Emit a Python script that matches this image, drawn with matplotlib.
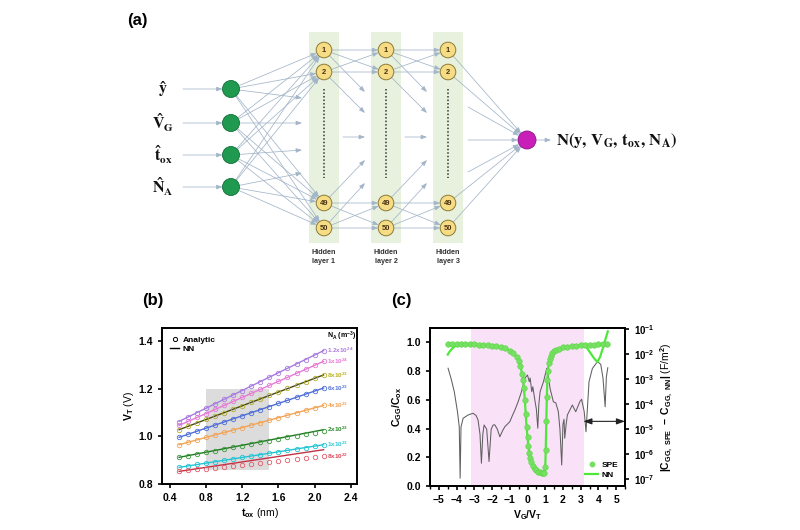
import numpy as np
import matplotlib
matplotlib.use('Agg')
import matplotlib.pyplot as plt
from matplotlib.patches import Circle, Rectangle
from matplotlib.lines import Line2D
from matplotlib.ticker import MultipleLocator, NullLocator

plt.rcParams['font.family'] = ['Liberation Sans', 'DejaVu Sans']
plt.rcParams['font.weight'] = 'bold'
plt.rcParams['mathtext.fontset'] = 'custom'
plt.rcParams['mathtext.rm'] = 'Liberation Sans:bold'
plt.rcParams['mathtext.bf'] = 'Liberation Sans:bold'
plt.rcParams['mathtext.it'] = 'Liberation Sans:italic:bold'
plt.rcParams['mathtext.default'] = 'rm'
plt.rcParams['axes.linewidth'] = 1.4

# ---------------- data: panel (a) ----------------
input_labels = [r'$\mathbf{\hat{y}}$', r'$\hat{\mathbf{V}}_{\mathbf{G}}$',
                r'$\hat{\mathbf{t}}_{\mathbf{ox}}$', r'$\hat{\mathbf{N}}_{\mathbf{A}}$']
node_labels = ['1', '2', '49', '50']
hidden_labels = ['Hidden\nlayer 1', 'Hidden\nlayer 2', 'Hidden\nlayer 3']
output_label = r'$\mathbf{N(y,\,V_G,\,t_{ox},\,N_A)}$'

# ---------------- data: panel (b) ----------------
tox_analytic = [0.5, 0.6, 0.7, 0.8, 0.9, 1.0, 1.1, 1.2, 1.3, 1.4, 1.5, 1.6, 1.7, 1.8, 1.9, 2.0, 2.1]
tox_nn = [0.5, 2.1]
na_labels = [r'1.2x10$^{24}$', r'1x10$^{24}$', r'8x10$^{23}$', r'6x10$^{23}$',
             r'4x10$^{23}$', r'2x10$^{23}$', r'1x10$^{23}$', r'8x10$^{22}$']
vt_an_12e24 = [1.060, 1.080, 1.100, 1.118, 1.137, 1.155, 1.174, 1.192, 1.211, 1.229, 1.248, 1.266, 1.285, 1.303, 1.322, 1.340, 1.358]
vt_an_10e24 = [1.046, 1.063, 1.080, 1.096, 1.113, 1.130, 1.147, 1.164, 1.181, 1.197, 1.214, 1.231, 1.248, 1.265, 1.282, 1.298, 1.315]
vt_an_8e23 = [1.028, 1.042, 1.057, 1.071, 1.086, 1.100, 1.114, 1.129, 1.143, 1.158, 1.172, 1.186, 1.201, 1.215, 1.230, 1.244, 1.258]
vt_an_6e23 = [0.996, 1.009, 1.022, 1.035, 1.048, 1.061, 1.074, 1.087, 1.100, 1.112, 1.125, 1.138, 1.151, 1.164, 1.177, 1.190, 1.203]
vt_an_4e23 = [0.965, 0.975, 0.986, 0.996, 1.006, 1.017, 1.027, 1.037, 1.048, 1.058, 1.068, 1.078, 1.089, 1.099, 1.109, 1.120, 1.130]
vt_an_2e23 = [0.912, 0.919, 0.926, 0.933, 0.940, 0.947, 0.954, 0.961, 0.968, 0.975, 0.982, 0.989, 0.996, 1.002, 1.010, 1.016, 1.024]
vt_an_1e23 = [0.870, 0.876, 0.882, 0.888, 0.894, 0.900, 0.906, 0.912, 0.917, 0.923, 0.929, 0.935, 0.941, 0.947, 0.953, 0.959, 0.965]
vt_an_8e22 = [0.853, 0.857, 0.861, 0.865, 0.869, 0.873, 0.877, 0.881, 0.886, 0.890, 0.894, 0.898, 0.902, 0.906, 0.910, 0.914, 0.918]
vt_nn_12e24 = [1.063, 1.360]
vt_nn_10e24 = [1.046, 1.315]
vt_nn_8e23 = [1.028, 1.258]
vt_nn_6e23 = [0.996, 1.203]
vt_nn_4e23 = [0.965, 1.130]
vt_nn_2e23 = [0.912, 1.028]
vt_nn_1e23 = [0.870, 0.965]
vt_nn_8e22 = [0.853, 0.944]
train_tox = [0.8, 1.5]
train_vt = [0.86, 1.2]

# ---------------- data: panel (c) ----------------
spe_x = [-4.5, -4.25, -4.0, -3.75, -3.5, -3.25, -3.0, -2.75, -2.5, -2.25, -2.0, -1.75, -1.5, -1.25,
         -1.0, -0.8, -0.6, -0.5, -0.4, -0.3, -0.25, -0.2, -0.15, -0.1, -0.05, 0.0, 0.05, 0.1, 0.15,
         0.2, 0.3, 0.4, 0.5, 0.6, 0.7, 0.8, 0.9, 0.95, 1.0, 1.03, 1.06, 1.09, 1.12, 1.15, 1.2, 1.25,
         1.3, 1.4, 1.5, 1.6, 1.75, 2.0, 2.25, 2.5, 2.75, 3.0, 3.25, 3.5, 3.75, 4.0, 4.25, 4.5]
spe_c = [0.990, 0.990, 0.989, 0.989, 0.988, 0.987, 0.986, 0.985, 0.983, 0.981, 0.978, 0.974, 0.968, 0.958,
         0.943, 0.925, 0.895, 0.870, 0.835, 0.780, 0.740, 0.680, 0.600, 0.500, 0.410, 0.340, 0.280, 0.230, 0.195,
         0.170, 0.140, 0.120, 0.108, 0.100, 0.094, 0.090, 0.088, 0.090, 0.130, 0.250, 0.450, 0.620, 0.740, 0.800,
         0.855, 0.885, 0.905, 0.925, 0.940, 0.948, 0.957, 0.965, 0.970, 0.974, 0.977, 0.979, 0.981, 0.983,
         0.985, 0.986, 0.987, 0.988]
nn_x = [-4.5, -4.4, -4.3, -4.2, -4.1, -4.0, -3.8, -3.5, -3.0, -2.5, -2.0, -1.5, -1.0, -0.8, -0.6, -0.5,
        -0.4, -0.3, -0.25, -0.2, -0.15, -0.1, -0.05, 0.0, 0.05, 0.1, 0.15, 0.2, 0.3, 0.4, 0.5, 0.6, 0.7,
        0.8, 0.9, 0.95, 1.0, 1.03, 1.06, 1.09, 1.12, 1.15, 1.2, 1.25, 1.3, 1.4, 1.5, 1.75, 2.0, 2.5,
        3.0, 3.3, 3.5, 3.75, 3.94, 4.1, 4.3, 4.53]
nn_c = [0.915, 0.935, 0.950, 0.962, 0.972, 0.980, 0.988, 0.988, 0.986, 0.983, 0.978, 0.968, 0.943, 0.925,
        0.895, 0.870, 0.835, 0.780, 0.740, 0.680, 0.600, 0.500, 0.410, 0.340, 0.280, 0.230, 0.195, 0.170,
        0.140, 0.120, 0.108, 0.100, 0.094, 0.090, 0.086, 0.088, 0.130, 0.250, 0.450, 0.620, 0.740, 0.800,
        0.855, 0.885, 0.905, 0.925, 0.940, 0.957, 0.965, 0.974, 0.979, 0.972, 0.935, 0.890, 0.863, 0.900,
        0.980, 1.077]
err_x = [-4.48, -4.3, -4.13, -3.95, -3.85, -3.8, -3.75, -3.63, -3.35, -3.07, -2.9, -2.79, -2.68, -2.6,
         -2.52, -2.45, -2.3, -2.17, -2.05, -1.94, -1.85, -1.7, -1.56, -1.4, -1.28, -1.0, -0.85, -0.71,
         -0.53, -0.34, -0.15, 0.0, 0.1, 0.15, 0.24, 0.3, 0.43, 0.5, 0.58, 0.64, 0.71, 0.9, 1.09, 1.18,
         1.27, 1.46, 1.6, 1.74, 1.83, 1.93, 2.0, 2.06, 2.1, 2.18, 2.25, 2.53, 2.72, 2.95, 3.05, 3.2,
         3.3, 3.47, 3.66, 3.94, 4.13, 4.26, 4.38, 4.45, 4.53]
err_log = [-2.56, -3.0, -3.5, -4.3, -4.9, -6.96, -4.9, -4.56, -4.43, -4.36, -4.45, -4.63, -5.2, -6.36,
           -5.2, -4.83, -5.0, -6.29, -5.0, -4.83, -4.82, -5.0, -5.3, -5.05, -4.9, -4.7, -4.45, -4.23,
           -3.9, -3.5, -2.96, -2.83, -3.1, -2.95, -3.5, -3.3, -3.9, -4.2, -4.96, -4.0, -3.5, -3.1, -2.56,
           -2.9, -3.36, -3.9, -3.95, -4.3, -5.0, -6.43, -4.8, -4.6, -5.36, -4.8, -4.43, -4.03, -4.3, -3.9,
           -3.8, -4.3, -5.1, -3.1, -2.57, -2.3, -2.4, -2.96, -4.1, -2.9, -2.54]
shade_vg = [-3.2, 3.2]
err_exp = [-1, -2, -3, -4, -5, -6, -7]

# ---------------- figure ----------------
fig = plt.figure(figsize=(8, 5.3), dpi=100)

# ===== panel (a): network diagram in pixel coordinates =====
ax_a = fig.add_axes([0, 0, 1, 1])
ax_a.set_xlim(0, 800)
ax_a.set_ylim(530, 0)
ax_a.axis('off')

lc = '#a3b5c8'
in_x, in_ys, r_in = 231, [89, 123, 155, 187], 8.5
layer_xs, node_ys, r_h = [324, 386, 448], [50, 72, 203, 228], 7.8
out_x, out_y, r_out = 527, 140, 9


def arrow(x0, y0, x1, y1, r0=0.0, r1=0.0):
    dx, dy = x1 - x0, y1 - y0
    d = np.hypot(dx, dy)
    ux, uy = dx / d, dy / d
    ax_a.annotate('', xy=(x1 - ux * r1, y1 - uy * r1), xytext=(x0 + ux * r0, y0 + uy * r0),
                  arrowprops=dict(arrowstyle='-|>,head_length=0.35,head_width=0.13', color=lc,
                                  lw=0.55, shrinkA=0, shrinkB=0, mutation_scale=10), zorder=2)


for lx in layer_xs:
    ax_a.add_patch(Rectangle((lx - 15, 32), 30, 211, facecolor='#e7f1de', edgecolor='none', zorder=0))
    ax_a.plot([lx, lx], [89, 178], color='#333333', lw=1.1, ls=(0, (1, 1.3)), zorder=3)

# inputs
mid_in = [98, 123, 150, 173]
for i, (y, lab) in enumerate(zip(in_ys, input_labels)):
    ax_a.text(163, y, lab, ha='center', va='center', fontsize=11.5, math_fontfamily='stix', color='#111111')
    arrow(183, y, in_x, y, 0, r_in)
    for ny in node_ys:
        arrow(in_x, y, layer_xs[0], ny, r_in, r_h)
    arrow(in_x, y, layer_xs[0] - 22, mid_in[i], r_in, 0)
    ax_a.add_patch(Circle((in_x, y), r_in, facecolor='#1f9a4e', edgecolor='#12703a', lw=0.6, zorder=4))

# hidden to hidden
mid_h = [92, 113, 160, 183]
groups = [node_ys[:2], node_ys[2:]]
for k in range(2):
    x0, x1 = layer_xs[k], layer_xs[k + 1]
    for g in groups:
        for y0 in g:
            for y1 in g:
                arrow(x0, y0, x1, y1, r_h, r_h)
    for j, y0 in enumerate(node_ys):
        arrow(x0, y0, x1 - 21, mid_h[j], r_h, 0)
    arrow(x1 - 43, 137, x1 - 21, 137)

# last hidden to output
for y0 in node_ys:
    arrow(layer_xs[2], y0, out_x, out_y, r_h, r_out)
for y0 in [107, 140, 172]:
    arrow(468, y0, out_x, out_y, 0, r_out)
arrow(out_x, out_y, 551, out_y, r_out, 0)

for lx, hl in zip(layer_xs, hidden_labels):
    for ny, nl in zip(node_ys, node_labels):
        ax_a.add_patch(Circle((lx, ny), r_h, facecolor='#f6dc85', edgecolor='#8c7a35', lw=0.7, zorder=4))
        ax_a.text(lx, ny + 0.3, nl, ha='center', va='center', fontsize=5.5, color='#4a3210', zorder=5)
    ax_a.text(lx, 257, hl, ha='center', va='center', fontsize=5.2, color='#333333', linespacing=1.5)

ax_a.add_patch(Circle((out_x, out_y), r_out, facecolor='#c81fb8', edgecolor='#8e158a', lw=0.6, zorder=4))
ax_a.text(556, out_y, output_label, ha='left', va='center', fontsize=12, math_fontfamily='stix', color='#111111')

fig.text(137 / 800, 1 - 20 / 530, '(a)', ha='center', va='center', fontsize=12, fontweight='bold')
fig.text(153 / 800, 1 - 300 / 530, '(b)', ha='center', va='center', fontsize=12, fontweight='bold')
fig.text(401 / 800, 1 - 300 / 530, '(c)', ha='center', va='center', fontsize=12, fontweight='bold')

# ===== panel (b) =====
ax_b = fig.add_axes([162 / 800, 1 - 484 / 530, 195 / 800, 156 / 530])
an_series = [vt_an_12e24, vt_an_10e24, vt_an_8e23, vt_an_6e23, vt_an_4e23, vt_an_2e23, vt_an_1e23, vt_an_8e22]
nn_series = [vt_nn_12e24, vt_nn_10e24, vt_nn_8e23, vt_nn_6e23, vt_nn_4e23, vt_nn_2e23, vt_nn_1e23, vt_nn_8e22]
line_cols = ['#a77ce0', '#e67ad6', '#4a4a12', '#4f6fd6', '#f2a457', '#1f7a22', '#22c4d4', '#c33245']
mark_cols = ['#a77ce0', '#e67ad6', '#b3ae2e', '#4f6fd6', '#f2a457', '#3a9a3a', '#22c4d4', '#e25a6a']
lab_cols = ['#b07ee0', '#e87ad8', '#b8b020', '#5a78d8', '#f0a050', '#2a8a2a', '#30c8d8', '#e04a5a']

ax_b.fill_between(train_tox, [train_vt[0]] * 2, [train_vt[1]] * 2, color='#dcdcdc', lw=0, zorder=0)
for an, nn, lcb, mc, tc, lab in zip(an_series, nn_series, line_cols, mark_cols, lab_cols, na_labels):
    ax_b.plot(tox_nn, nn, color=lcb, lw=1.0, zorder=2)
    ax_b.plot(tox_analytic, an, ls='none', marker='o', ms=3.2, mfc='none', mec=mc, mew=0.6, zorder=3)
    ax_b.text(2.14, an[-1] if lab == na_labels[-1] else nn[-1], lab, color=tc, fontsize=4.6, va='center', ha='left')
ax_b.text(2.14, 1.42, r'N$_A$ (m$^{-3}$)', fontsize=5, ha='left', va='center')
ax_b.set_xlim(0.31, 2.47)
ax_b.set_ylim(0.8, 1.455)
ax_b.set_xticks([0.4, 0.8, 1.2, 1.6, 2.0, 2.4])
ax_b.set_yticks([0.8, 1.0, 1.2, 1.4])
ax_b.xaxis.set_major_formatter(matplotlib.ticker.FormatStrFormatter('%.1f'))
ax_b.yaxis.set_major_formatter(matplotlib.ticker.FormatStrFormatter('%.1f'))
ax_b.tick_params(labelsize=7.5, width=1.2, length=3, direction='out')
ax_b.set_xlabel(r'$t_{ox}$ (nm)', fontsize=7.5, labelpad=2)
ax_b.set_ylabel(r'$V_T$ (V)', fontsize=7.5, labelpad=2)
hb = [Line2D([], [], ls='none', marker='o', ms=3, mfc='none', mec='k', mew=0.7),
      Line2D([], [], color='k', lw=1.0)]
ax_b.legend(hb, ['Analytic', 'NN'], loc='upper left', fontsize=6, frameon=False, handlelength=1.0,
            handletextpad=0.5, labelspacing=0.15, borderaxespad=0.6)

# ===== panel (c) =====
ax_c = fig.add_axes([430 / 800, 1 - 486 / 530, 195 / 800, 158 / 530])
ax_c2 = ax_c.twinx()
ax_c.set_zorder(ax_c2.get_zorder() + 1)
ax_c.patch.set_visible(False)

ax_c2.axvspan(shade_vg[0], shade_vg[1], color='#f9e2f8', lw=0, zorder=0)
ax_c2.plot(err_x, 10.0 ** np.array(err_log), color='#606060', lw=0.75, zorder=2)
ax_c2.set_yscale('log')
ax_c2.set_ylim(10 ** -7.27, 10 ** -0.95)
ax_c2.set_yticks([10.0 ** e for e in err_exp], [r'$10^{%d}$' % e for e in err_exp])
ax_c2.yaxis.set_minor_locator(NullLocator())
ax_c2.tick_params(labelsize=7, width=1.2, length=3, direction='out')
ax_c2.set_ylabel(r'$|C_{GG,\ SPE}\ -\ C_{GG,\ NN}|$ (F/m$^2$)', fontsize=7.5, labelpad=3)

ax_c.plot(nn_x, nn_c, color='#4fe83a', lw=1.6, zorder=3)
ax_c.plot(spe_x, spe_c, ls='none', marker='o', ms=4.0, color='#76e062', mec='#5fd84a', mew=0.4, zorder=4)
ax_c.annotate('', xy=(5.5, 0.45), xytext=(3.15, 0.45),
              arrowprops=dict(arrowstyle='<|-|>,head_length=0.5,head_width=0.18', color='#222222', lw=0.8,
                              shrinkA=0, shrinkB=0), zorder=5)
ax_c.set_xlim(-5.5, 5.5)
ax_c.set_ylim(0, 1.1)
ax_c.set_xticks(range(-5, 6))
ax_c.xaxis.set_minor_locator(MultipleLocator(0.5))
ax_c.set_yticks([0.0, 0.2, 0.4, 0.6, 0.8, 1.0])
ax_c.yaxis.set_major_formatter(matplotlib.ticker.FormatStrFormatter('%.1f'))
ax_c.tick_params(labelsize=7.5, width=1.2, length=3, direction='out')
ax_c.tick_params(which='minor', width=1.0, length=2, direction='out')
ax_c.set_xlabel(r'$V_G/V_T$', fontsize=7.5, labelpad=2)
ax_c.set_ylabel(r'$C_{GG}/C_{ox}$', fontsize=7.5, labelpad=2)
hc = [Line2D([], [], ls='none', marker='o', ms=3.2, color='#76e062'),
      Line2D([], [], color='#4fe83a', lw=1.6)]
ax_c.legend(hc, ['SPE', 'NN'], loc='lower right', fontsize=6, frameon=False, handlelength=1.6,
            handletextpad=0.4, labelspacing=0.3, borderaxespad=0.4)

fig.savefig('out.png', dpi=100)
